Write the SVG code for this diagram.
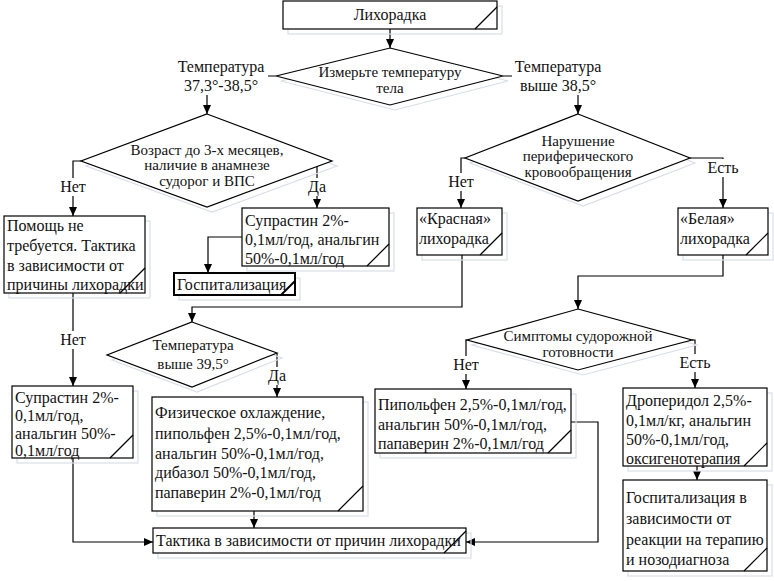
<svg xmlns="http://www.w3.org/2000/svg" width="774" height="581" viewBox="0 0 774 581" font-family="'Liberation Serif', 'Times New Roman', serif">
<defs>
<marker id="ah" markerUnits="userSpaceOnUse" markerWidth="10" markerHeight="9" refX="9" refY="4" orient="auto">
<path d="M0,0 L9,4 L0,8 z" fill="#000"/>
</marker>
<style>
.bx{fill:#fff;stroke:#000;stroke-width:1.2}
.bxb{fill:#fff;stroke:#000;stroke-width:2}
.sh{fill:none;stroke:#d9dee8;stroke-width:1.2}
.dg{stroke:#000;stroke-width:1.2;fill:none}
.dm{fill:#fff;stroke:#000;stroke-width:1.2}
.cn{fill:none;stroke:#000;stroke-width:1.2;marker-end:url(#ah)}
.lb{fill:#fff;stroke:none}
text{font-family:'Liberation Serif','Times New Roman',serif;font-size:16px;fill:#111}
.c{text-anchor:middle}
.d{font-size:15px}
</style>
</defs>
<rect width="774" height="581" fill="#fff"/>

<g id="connectors">
<path class="cn" d="M390,29 V48"/>
<path class="cn" d="M276,76 H207 V114"/>
<path class="cn" d="M503,76 H578 V114"/>
<path class="cn" d="M81,161 H73 V216"/>
<path class="cn" d="M317,166 V208"/>
<path class="cn" d="M242,237 H208 V273"/>
<path class="cn" d="M462,255 V307 H192 V322"/>
<path class="cn" d="M465,158 H461 V208"/>
<path class="cn" d="M690,158 H723 V208"/>
<path class="cn" d="M723,255 V276 H578 V309"/>
<path class="cn" d="M73,293 V386"/>
<path class="cn" d="M277,353 V397"/>
<path class="cn" d="M467,340 H466 V389"/>
<path class="cn" d="M692,340 H695 V388"/>
<path class="cn" d="M254,511 V528"/>
<path class="cn" d="M73,458 V542 H153"/>
<path class="cn" d="M571,422 H598 V542 H466"/>
<path class="cn" d="M697,466 V480"/>
<g id="edge-labels">
<rect class="lb" x="176" y="57" width="92" height="38"/>
<text class="c" x="221" y="72">Температура</text>
<text class="c" x="221" y="91">37,3°-38,5°</text>
<rect class="lb" x="512" y="57" width="93" height="38"/>
<text class="c" x="558" y="72">Температура</text>
<text class="c" x="558" y="91">выше 38,5°</text>
<rect class="lb" x="58" y="178" width="30" height="18"/>
<text class="c" x="73" y="192">Нет</text>
<rect class="lb" x="306" y="178" width="22" height="18"/>
<text class="c" x="317" y="192">Да</text>
<rect class="lb" x="446" y="173" width="30" height="18"/>
<text class="c" x="461" y="187">Нет</text>
<rect class="lb" x="706" y="159" width="34" height="18"/>
<text class="c" x="723" y="173">Есть</text>
<rect class="lb" x="58" y="331" width="30" height="18"/>
<text class="c" x="73" y="345">Нет</text>
<rect class="lb" x="266" y="367" width="22" height="18"/>
<text class="c" x="277" y="381">Да</text>
<rect class="lb" x="451" y="356" width="30" height="18"/>
<text class="c" x="466" y="370">Нет</text>
<rect class="lb" x="678" y="354" width="34" height="18"/>
<text class="c" x="695" y="368">Есть</text>
</g>
</g>

<g id="n-start">
<rect class="sh" x="288" y="6" width="214" height="28"/>
<rect class="bx" x="283" y="1" width="214" height="28"/>
<path class="dg" d="M475,29 L497,7"/>
<text class="c" x="390" y="20">Лихорадка</text>
</g>

<g id="d-measure">
<polygon class="sh" points="395,53 508,81 395,110 281,81"/>
<polygon class="dm" points="390,48 503,76 390,105 276,76"/>
<text class="c d" x="390" y="77">Измерьте температуру</text>
<text class="c d" x="390" y="93">тела</text>
</g>

<g id="d-age">
<polygon class="sh" points="212,119 337,166 212,212 86,166"/>
<polygon class="dm" points="207,114 332,161 207,207 81,161"/>
<text class="c d" x="207" y="155">Возраст до 3-х месяцев,</text>
<text class="c d" x="207" y="170">наличие в анамнезе</text>
<text class="c d" x="207" y="186">судорог и ВПС</text>
</g>

<g id="d-periph">
<polygon class="sh" points="583,119 695,163 583,206 470,163"/>
<polygon class="dm" points="578,114 690,158 578,201 465,158"/>
<text class="c d" x="578" y="146">Нарушение</text>
<text class="c d" x="578" y="161">периферического</text>
<text class="c d" x="578" y="177">кровообращения</text>
</g>

<g id="n-help">
<rect class="sh" x="9" y="221" width="141" height="77"/>
<rect class="bx" x="4" y="216" width="141" height="77"/>
<path class="dg" d="M120,293 L145,268"/>
<text x="7" y="231">Помощь не</text>
<text x="7" y="251">требуется. Тактика</text>
<text x="7" y="271">в зависимости от</text>
<text x="7" y="290">причины лихорадки</text>
</g>

<g id="n-suprastin1">
<rect class="sh" x="247" y="213" width="147" height="58"/>
<rect class="bx" x="242" y="208" width="147" height="58"/>
<path class="dg" d="M367,266 L389,244"/>
<text x="245" y="226">Супрастин 2%-</text>
<text x="245" y="245">0,1мл/год, анальгин</text>
<text x="245" y="264">50%-0,1мл/год</text>
</g>

<g id="n-hosp1">
<rect class="sh" x="179" y="278" width="121" height="22"/>
<rect class="bxb" x="174" y="273" width="121" height="22"/>
<path class="dg" d="M281,295 L295,281" style="stroke-width:2"/>
<text x="177" y="290">Госпитализация</text>
</g>

<g id="n-red">
<rect class="sh" x="422" y="213" width="85" height="47"/>
<rect class="bx" x="417" y="208" width="85" height="47"/>
<path class="dg" d="M480,255 L502,233"/>
<text x="419" y="224">«Красная»</text>
<text x="419" y="244">лихорадка</text>
</g>

<g id="n-white">
<rect class="sh" x="683" y="213" width="90" height="47"/>
<rect class="bx" x="678" y="208" width="90" height="47"/>
<path class="dg" d="M746,255 L768,233"/>
<text x="680" y="224">«Белая»</text>
<text x="680" y="244">лихорадка</text>
</g>

<g id="d-temp395">
<polygon class="sh" points="197,327 282,358 197,392 112,360"/>
<polygon class="dm" points="192,322 277,353 192,387 107,355"/>
<text class="c d" x="193" y="350">Температура</text>
<text class="c d" x="193" y="369">выше 39,5°</text>
</g>

<g id="d-seizure">
<polygon class="sh" points="583,314 697,345 583,375 472,345"/>
<polygon class="dm" points="578,309 692,340 578,370 467,340"/>
<text class="c d" x="578" y="341">Симптомы судорожной</text>
<text class="c d" x="578" y="357">готовности</text>
</g>

<g id="n-suprastin2">
<rect class="sh" x="17" y="391" width="121" height="72"/>
<rect class="bx" x="12" y="386" width="121" height="72"/>
<path class="dg" d="M110,458 L133,435"/>
<text x="15" y="403">Супрастин 2%-</text>
<text x="15" y="421">0,1мл/год,</text>
<text x="15" y="439">анальгин 50%-</text>
<text x="15" y="456">0,1мл/год</text>
</g>

<g id="n-cooling">
<rect class="sh" x="157" y="402" width="211" height="114"/>
<rect class="bx" x="152" y="397" width="211" height="114"/>
<path class="dg" d="M338,511 L363,486"/>
<text x="155" y="418">Физическое охлаждение,</text>
<text x="155" y="439">пипольфен 2,5%-0,1мл/год,</text>
<text x="155" y="459">анальгин 50%-0,1мл/год,</text>
<text x="155" y="478">дибазол 50%-0,1мл/год,</text>
<text x="155" y="498">папаверин 2%-0,1мл/год</text>
</g>

<g id="n-pipolfen">
<rect class="sh" x="380" y="394" width="196" height="64"/>
<rect class="bx" x="375" y="389" width="196" height="64"/>
<path class="dg" d="M548,453 L571,430"/>
<text x="378" y="410">Пипольфен 2,5%-0,1мл/год,</text>
<text x="378" y="430">анальгин 50%-0,1мл/год,</text>
<text x="378" y="449">папаверин 2%-0,1мл/год</text>
</g>

<g id="n-droperidol">
<rect class="sh" x="628" y="393" width="144" height="78"/>
<rect class="bx" x="623" y="388" width="144" height="78"/>
<path class="dg" d="M744,466 L767,443"/>
<text x="626" y="406">Дроперидол 2,5%-</text>
<text x="626" y="426">0,1мл/кг, анальгин</text>
<text x="626" y="445">50%-0,1мл/год,</text>
<text x="626" y="464">оксигенотерапия</text>
</g>

<g id="n-hosp2">
<rect class="sh" x="628" y="485" width="144" height="91"/>
<rect class="bx" x="623" y="480" width="144" height="91"/>
<path class="dg" d="M744,571 L767,548"/>
<text x="626" y="503">Госпитализация в</text>
<text x="626" y="524">зависимости от</text>
<text x="626" y="545">реакции на терапию</text>
<text x="626" y="565">и нозодиагноза</text>
</g>

<g id="n-tactic">
<rect class="sh" x="158" y="533" width="313" height="25"/>
<rect class="bx" x="153" y="528" width="313" height="25"/>
<path class="dg" d="M444,553 L466,531"/>
<text x="156" y="546">Тактика в зависимости от причин лихорадки</text>
</g>
</svg>
